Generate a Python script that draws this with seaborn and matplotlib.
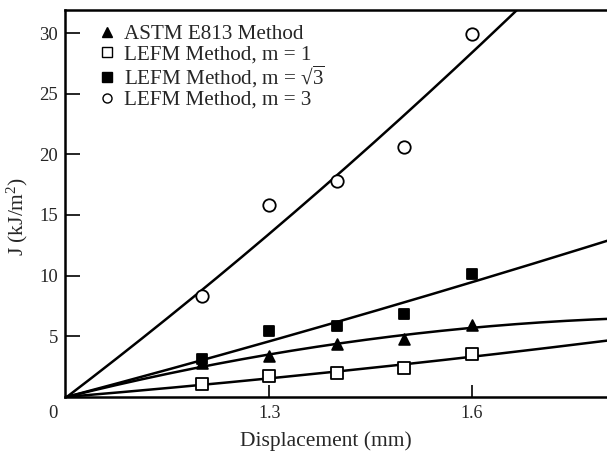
import numpy as np
import pandas as pd
import matplotlib
matplotlib.use("Agg")
import matplotlib.pyplot as plt
import seaborn as sns

# Displacement readings (mm); the axis origin sits at 1.0 mm (broken axis, labelled 0)
displacement = [1.2, 1.3, 1.4, 1.5, 1.6]
x_origin = 1.0

# J-integral values (kJ/m^2) for each evaluation method
j_astm = [2.8, 3.4, 4.35, 4.8, 5.9]
j_lefm_m1 = [1.05, 1.75, 1.95, 2.4, 3.5]
j_lefm_sqrt3 = [3.1, 5.4, 5.8, 6.8, 10.1]
j_lefm_m3 = [8.3, 15.8, 17.8, 20.6, 29.9]

labels = ["ASTM E813 Method",
          "LEFM Method, m = 1",
          r"LEFM Method, m = √$\overline{\mathregular{3}}$",
          "LEFM Method, m = 3"]
series = [j_astm, j_lefm_m1, j_lefm_sqrt3, j_lefm_m3]

x_ticks = [1.3, 1.6]
x_tick_labels = ["1.3", "1.6"]
y_ticks = [5, 10, 15, 20, 25, 30]

sns.set_theme(style="ticks")
plt.rcParams["font.family"] = ["Liberation Serif", "DejaVu Serif"]
plt.rcParams["mathtext.fontset"] = "custom"
plt.rcParams["mathtext.rm"] = "Liberation Serif"
plt.rcParams["mathtext.it"] = "Liberation Serif:italic"

rows = []
for lab, vals in zip(labels, series):
    for xv, yv in zip(displacement, vals):
        rows.append({"Displacement": xv, "J": yv, "Method": lab})
df = pd.DataFrame(rows)

fig = plt.figure(figsize=(6.07, 4.53), dpi=100)
ax = fig.add_axes([0.107, 0.124, 0.893, 0.854])

# Least-squares quadratic through the origin for each data set
d = np.array(displacement) - x_origin
xs = np.linspace(0.0, 0.85, 300)
for vals in series:
    A = np.column_stack([d, d ** 2])
    coef, *_ = np.linalg.lstsq(A, np.array(vals), rcond=None)
    fit = coef[0] * xs + coef[1] * xs ** 2
    sns.lineplot(x=xs + x_origin, y=fit, ax=ax, color="black", lw=1.8,
                 legend=False, zorder=2)

markers = {labels[0]: "^", labels[1]: "s", labels[2]: "s", labels[3]: "o"}
faces = {labels[0]: "black", labels[1]: "white", labels[2]: "black", labels[3]: "white"}
sizes = {labels[0]: 60, labels[1]: 70, labels[2]: 55, labels[3]: 80}

handles = []
for lab in labels:
    sub = df[df["Method"] == lab]
    sns.scatterplot(data=sub, x="Displacement", y="J", ax=ax, marker=markers[lab],
                    s=sizes[lab], facecolor=faces[lab], edgecolor="black",
                    linewidth=1.3, zorder=3, legend=False)
    h = plt.Line2D([], [], ls="none", marker=markers[lab], markersize=6.5,
                   markerfacecolor=faces[lab], markeredgecolor="black",
                   markeredgewidth=1.0, label=lab)
    handles.append(h)

ax.set_xlim(0.997, 1.80)
ax.set_ylim(0, 31.9)
ax.set_xticks(x_ticks)
ax.set_xticklabels(x_tick_labels)
ax.set_yticks(y_ticks)
ax.tick_params(axis="x", direction="in", length=9, width=1.4, labelsize=13, pad=6)
ax.tick_params(axis="y", direction="in", length=11, width=1.4, labelsize=13.5, pad=5)
for side in ["left", "bottom", "top"]:
    ax.spines[side].set_linewidth(1.8)
    ax.spines[side].set_color("black")
ax.spines["right"].set_visible(False)

ax.text(-0.023, -0.042, "0", transform=ax.transAxes, ha="center", va="center",
        fontsize=13.5)

ax.set_xlabel("Displacement (mm)", fontsize=15.5)
ax.xaxis.set_label_coords(0.4815, -0.114)
ax.xaxis.label.set_va("center")
ax.set_ylabel(r"J (kJ/m$^2$)", fontsize=15.5)
ax.yaxis.set_label_coords(-0.0886, 0.467)
ax.yaxis.label.set_va("center")

ax.legend(handles=handles, loc="upper left", bbox_to_anchor=(0.035, 0.995),
          frameon=False, fontsize=15.2, handletextpad=0.3, labelspacing=0.0,
          borderaxespad=0.2, handlelength=1.0)

fig.savefig("out.png", dpi=100)
